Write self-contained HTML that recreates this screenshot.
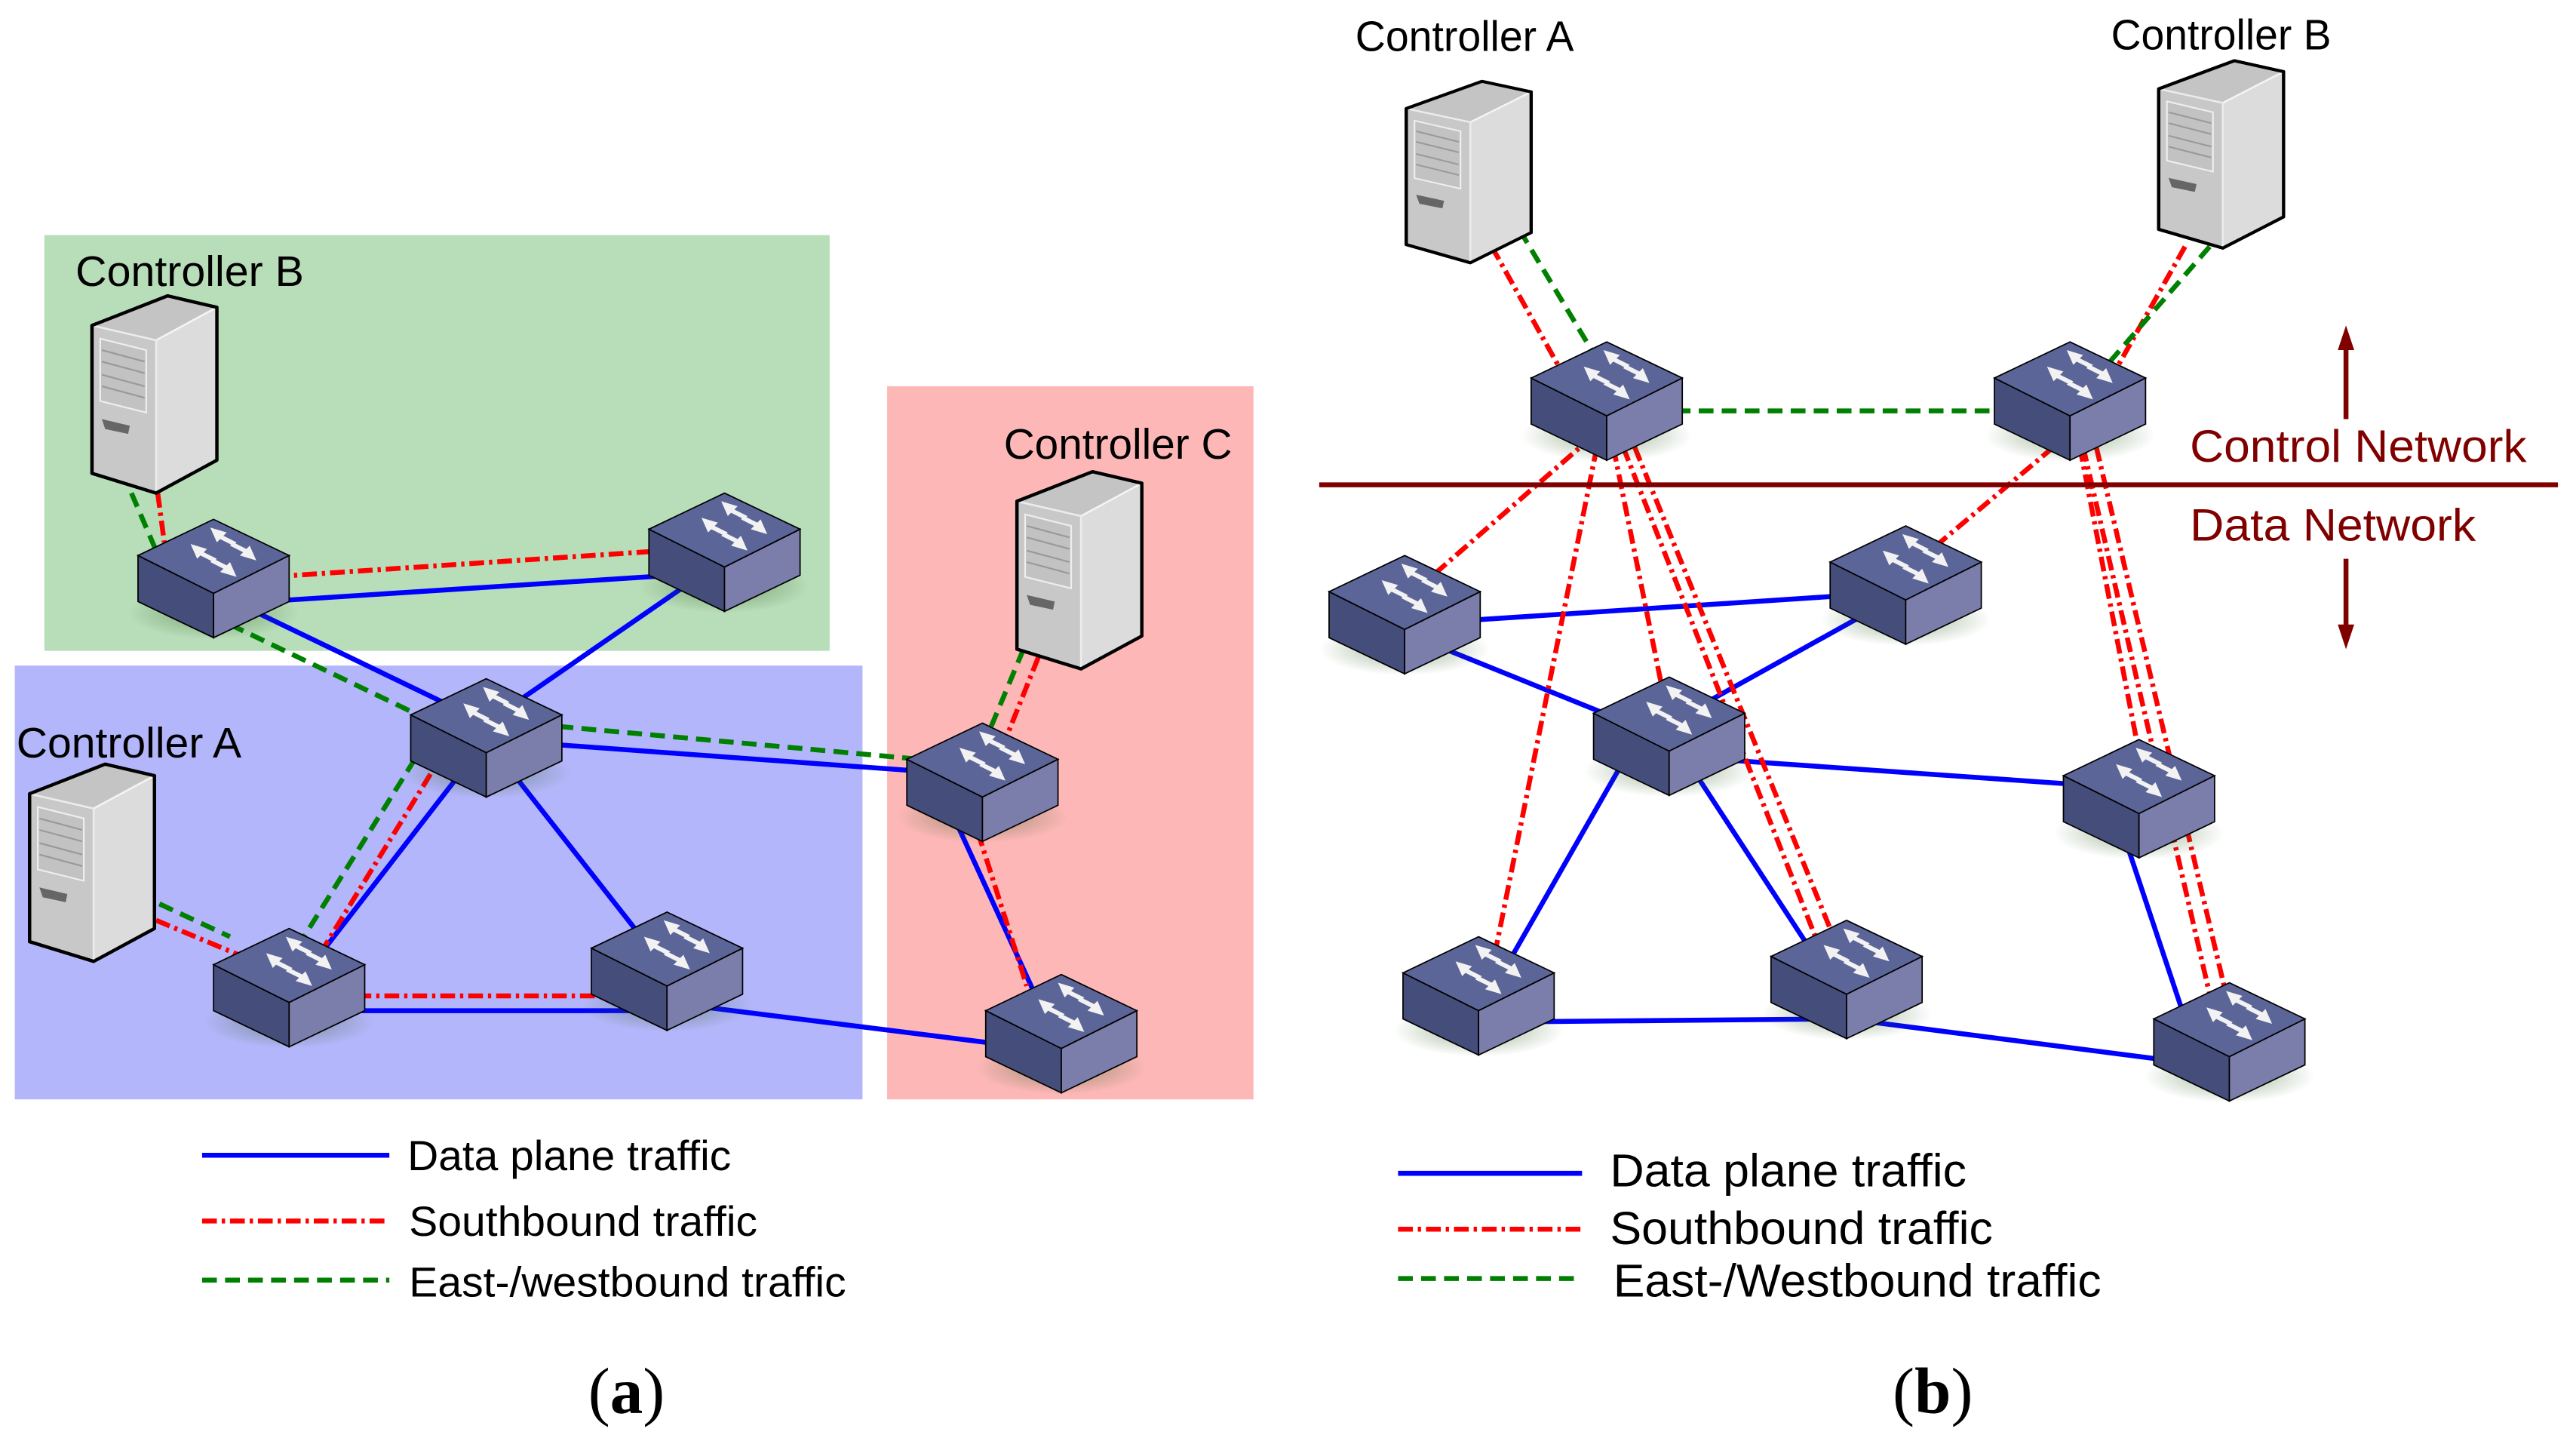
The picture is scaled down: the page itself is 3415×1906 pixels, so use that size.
<!DOCTYPE html>
<html><head><meta charset="utf-8"><style>html,body{margin:0;padding:0;background:#fff}svg{display:block}</style></head><body>
<svg width="3415" height="1906" viewBox="0 0 1568 875" xmlns="http://www.w3.org/2000/svg" font-family="Liberation Sans, sans-serif">
<defs>
<radialGradient id="sh" cx="0.5" cy="0.5" r="0.5"><stop offset="0" stop-color="#2a5a1a" stop-opacity="0.45"/><stop offset="1" stop-color="#2a5a1a" stop-opacity="0"/></radialGradient>
<g id="sw">
<ellipse cx="0" cy="35" rx="52" ry="16" fill="url(#sh)"/>
<path d="M-46,0 L0,23 L0,50 L-46,28 Z" fill="#454e7a" stroke="#000" stroke-width="0.8"/>
<path d="M0,23 L46,0 L46,28 L0,50 Z" fill="#7b7eab" stroke="#000" stroke-width="0.8"/>
<path d="M0,-22 L46,0 L0,23 L-46,0 Z" fill="#5c6598" stroke="#000" stroke-width="0.8"/>
<g fill="#f2f2f2">
<path d="M-2,-17 L8,-14 L6,-12 L14,-8 L12,-6 L4,-10 L2,-8 Z"/>
<path d="M-14,-7 L-4,-4 L-6,-2 L2,2 L0,4 L-8,0 L-10,2 Z"/>
<path d="M14,13 L4,10 L6,8 L-2,4 L0,2 L8,6 L10,4 Z"/>
<path d="M26,3 L16,0 L18,-2 L10,-6 L12,-8 L20,-4 L22,-6 Z"/>
</g>
</g>
<g id="srv">
<path d="M0,0 L46,-18 L76,-11 L76,82 L39,102 L0,90 Z" fill="#c8c8c8" stroke="#000" stroke-width="2" stroke-linejoin="round"/>
<path d="M39,9 L76,-11 L76,82 L39,102 Z" fill="#dcdcdc"/>
<path d="M0,0 L46,-18 L76,-11 L39,9 Z" fill="#c4c4c4"/>
<path d="M39,9 L76,-11" stroke="#f4f4f4" stroke-width="1.2"/>
<path d="M0,0 L39,9 L39,102" stroke="#ececec" stroke-width="1.2" fill="none"/>
<path d="M5,8 L33,15 L33,53 L5,46 Z" fill="#c2c2c2" stroke="#eee" stroke-width="1"/>
<g stroke="#999" stroke-width="1"><path d="M6,15 L32,22"/><path d="M6,22 L32,29"/><path d="M6,30 L32,37"/><path d="M6,37 L32,44"/></g>
<path d="M6,57 L23,61 L22,66 L8,63 Z" fill="#666"/>
<path d="M0,0 L46,-18 L76,-11 L76,82 L39,102 L0,90 Z" fill="none" stroke="#000" stroke-width="2" stroke-linejoin="round"/>
</g>
</defs>

<rect x="27" y="143" width="478" height="253" fill="#b8ddb9"/>
<rect x="9" y="405" width="516" height="264" fill="#b4b6fb"/>
<rect x="540" y="235" width="223" height="434" fill="#fdb7b7"/>

<g stroke-width="3" fill="none">
<g stroke="#0000ff">
<line x1="130" y1="368" x2="441" y2="348"/>
<line x1="130" y1="360" x2="296" y2="440"/>
<line x1="441" y1="340" x2="296" y2="440"/>
<line x1="300" y1="445" x2="180" y2="600"/>
<line x1="296" y1="450" x2="406" y2="590"/>
<line x1="296" y1="450" x2="598" y2="472"/>
<line x1="176" y1="615" x2="406" y2="615"/>
<line x1="406" y1="610" x2="646" y2="640"/>
<line x1="575" y1="485" x2="646" y2="640"/>
</g>
<g stroke="#ff0000" stroke-dasharray="9,3,2,3">
<line x1="150" y1="352" x2="420" y2="334"/>
<line x1="96" y1="300" x2="100" y2="330"/>
<line x1="195" y1="580" x2="275" y2="450"/>
<line x1="200" y1="606" x2="380" y2="606"/>
<line x1="95" y1="560" x2="150" y2="583"/>
<line x1="632" y1="400" x2="610" y2="455"/>
<line x1="590" y1="490" x2="625" y2="600"/>
</g>
<g stroke="#008000" stroke-dasharray="9,5">
<line x1="80" y1="300" x2="95" y2="335"/>
<line x1="140" y1="380" x2="265" y2="440"/>
<line x1="260" y1="450" x2="185" y2="570"/>
<line x1="340" y1="442" x2="560" y2="462"/>
<line x1="97" y1="550" x2="140" y2="570"/>
<line x1="623" y1="395" x2="600" y2="450"/>
</g>

<g stroke="#0000ff">
<line x1="855" y1="380" x2="1160" y2="360"/>
<line x1="855" y1="385" x2="1016" y2="450"/>
<line x1="1160" y1="360" x2="1016" y2="440"/>
<line x1="1016" y1="460" x2="1302" y2="480"/>
<line x1="990" y1="460" x2="910" y2="600"/>
<line x1="1025" y1="460" x2="1110" y2="590"/>
<line x1="900" y1="622" x2="1124" y2="620"/>
<line x1="1124" y1="620" x2="1357" y2="650"/>
<line x1="1290" y1="500" x2="1330" y2="620"/>
</g>
<g stroke="#ff0000" stroke-dasharray="9,3,2,3">
<line x1="908" y1="150" x2="950" y2="225"/>
<line x1="1330" y1="150" x2="1285" y2="230"/>
<line x1="970" y1="265" x2="870" y2="352"/>
<line x1="972" y1="272" x2="910" y2="580"/>
<line x1="982" y1="272" x2="1012" y2="420"/>
<line x1="988" y1="272" x2="1105" y2="570"/>
<line x1="995" y1="272" x2="1116" y2="570"/>
<line x1="1250" y1="272" x2="1175" y2="335"/>
<line x1="1266" y1="272" x2="1302" y2="458"/>
<line x1="1268" y1="272" x2="1345" y2="605"/>
<line x1="1276" y1="272" x2="1355" y2="605"/>
</g>
<g stroke="#008000" stroke-dasharray="9,5">
<line x1="925" y1="140" x2="970" y2="215"/>
<line x1="1345" y1="150" x2="1280" y2="225"/>
<line x1="1020" y1="250" x2="1220" y2="250"/>
</g>
</g>

<use href="#srv" x="56" y="198"/>
<use href="#srv" x="18" y="483"/>
<use href="#srv" x="619" y="305"/>
<use href="#srv" transform="translate(856,66) scale(1,0.92)"/>
<use href="#srv" transform="translate(1314,54) scale(1,0.95)"/>

<use href="#sw" x="130" y="338"/>
<use href="#sw" x="441" y="322"/>
<use href="#sw" x="296" y="435"/>
<use href="#sw" x="176" y="587"/>
<use href="#sw" x="406" y="577"/>
<use href="#sw" x="598" y="462"/>
<use href="#sw" x="646" y="615"/>

<use href="#sw" x="978" y="230"/>
<use href="#sw" x="1260" y="230"/>
<use href="#sw" x="855" y="360"/>
<use href="#sw" x="1160" y="342"/>
<use href="#sw" x="1016" y="434"/>
<use href="#sw" x="1302" y="472"/>
<use href="#sw" x="900" y="592"/>
<use href="#sw" x="1124" y="582"/>
<use href="#sw" x="1357" y="620"/>

<line x1="803" y1="295" x2="1557" y2="295" stroke="#800000" stroke-width="3"/>
<line x1="1428" y1="255" x2="1428" y2="210" stroke="#800000" stroke-width="3"/>
<path d="M1423,213 L1428,198 L1433,213 Z" fill="#800000"/>
<line x1="1428" y1="340" x2="1428" y2="383" stroke="#800000" stroke-width="3"/>
<path d="M1423,380 L1428,395 L1433,380 Z" fill="#800000"/>
<g fill="#800000" font-size="27.5">
<text x="1333" y="281" textLength="205" lengthAdjust="spacingAndGlyphs">Control Network</text>
<text x="1333" y="329" textLength="174" lengthAdjust="spacingAndGlyphs">Data Network</text>
</g>

<g font-size="26" fill="#000">
<text x="46" y="174" textLength="139" lengthAdjust="spacingAndGlyphs">Controller B</text>
<text x="611" y="279" textLength="139" lengthAdjust="spacingAndGlyphs">Controller C</text>
<text x="10" y="461" textLength="137" lengthAdjust="spacingAndGlyphs">Controller A</text>
<text x="825" y="31" textLength="133" lengthAdjust="spacingAndGlyphs">Controller A</text>
<text x="1285" y="30" textLength="134" lengthAdjust="spacingAndGlyphs">Controller B</text>
</g>

<g stroke-width="3">
<line x1="123" y1="703" x2="237" y2="703" stroke="#0000ff"/>
<line x1="123" y1="743" x2="237" y2="743" stroke="#ff0000" stroke-dasharray="9,3,2,3"/>
<line x1="123" y1="779" x2="237" y2="779" stroke="#008000" stroke-dasharray="9,5"/>
<line x1="851" y1="714" x2="963" y2="714" stroke="#0000ff"/>
<line x1="851" y1="748" x2="963" y2="748" stroke="#ff0000" stroke-dasharray="9,3,2,3"/>
<line x1="851" y1="778" x2="963" y2="778" stroke="#008000" stroke-dasharray="9,5"/>
</g>
<g font-size="25.5">
<text x="248" y="712" textLength="197" lengthAdjust="spacingAndGlyphs">Data plane traffic</text>
<text x="249" y="752" textLength="212" lengthAdjust="spacingAndGlyphs">Southbound traffic</text>
<text x="249" y="789" textLength="266" lengthAdjust="spacingAndGlyphs">East-/westbound traffic</text>
</g>
<g font-size="28">
<text x="980" y="722" textLength="217" lengthAdjust="spacingAndGlyphs">Data plane traffic</text>
<text x="980" y="757" textLength="233" lengthAdjust="spacingAndGlyphs">Southbound traffic</text>
<text x="982" y="789" textLength="297" lengthAdjust="spacingAndGlyphs">East-/Westbound traffic</text>
</g>
<g font-family="Liberation Serif, serif" font-size="40">
<text x="358" y="860">(<tspan font-weight="bold">a</tspan>)</text>
<text x="1152" y="860">(<tspan font-weight="bold">b</tspan>)</text>
</g>
</svg>
</body></html>
